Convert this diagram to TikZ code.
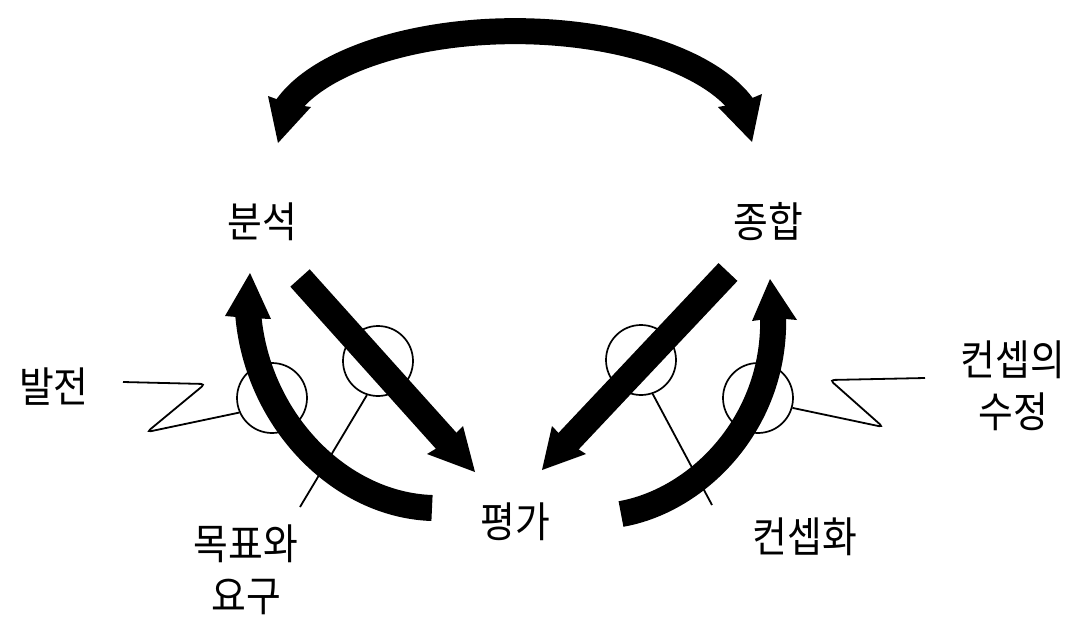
\documentclass[tikz,border=0pt]{standalone}
\usepackage{fontspec}
\newfontfamily\kr[FakeStretch=0.9]{Noto Sans CJK KR}
\usetikzlibrary{calc}
\begin{document}
\begin{tikzpicture}[x=1pt,y=-1pt,
  lbl/.style={font=\kr\fontsize{42}{52}\selectfont, inner sep=0pt, align=center},
  band/.style={line width=26pt, draw=black, line cap=butt},
  head/.style={fill=black},
  ring/.style={circle, draw, line width=1.7pt, minimum size=70pt, inner sep=0pt},
  lead/.style={line width=1.8pt, rounded corners=4pt}]
\useasboundingbox (0,0) rectangle (1072,619);

% labels
\node[lbl] (bunseok) at (262,222) {분석};
\node[lbl] (jonghap) at (768,222) {종합};
\node[lbl] (pyeongga) at (515,522) {평가};
\node[lbl] (baljeon) at (54,387) {발전};
\node[lbl] (sujeong) at (1013,386) {컨셉의\\수정};
\node[lbl] (mokpyo) at (246,570) {목표와\\요구};
\node[lbl] (concept) at (805,537) {컨셉화};

% top arc arrow (both ends)
\coordinate (tLb) at (285.5,109);
\coordinate (tLt) at (278,143);
\coordinate (tRt) at (752,142);
\draw[band] (tLb) arc[start angle=197, end angle=343, x radius=240, y radius=110];
\fill[head] (tLt) -- (268,96) -- (290,104) -- (311,107) -- cycle;
\fill[head] (tRt) -- (762,94) -- (740,103) -- (718,107) -- cycle;

% left straight arrow
\coordinate (lsS) at (300,278);
\coordinate (lsB) at (450,445);
\coordinate (lsT) at (475,472);
\draw[band] (lsS) -- (lsB);
\fill[head] (lsT) -- (427,454) -- (447,442) -- (463,426) -- cycle;

% right straight arrow
\coordinate (rsS) at (728,272);
\coordinate (rsB) at (564,446);
\coordinate (rsT) at (542,470);
\draw[band] (rsS) -- (rsB);
\fill[head] (rsT) -- (552,426) -- (567,442) -- (586,454) -- cycle;

% left curved arrow
\coordinate (lcS) at (432,508);
\coordinate (lcB) at (248,312);
\coordinate (lcT) at (250,273);
\draw[band] (lcS) .. controls (340,505) and (256,420) .. (lcB);
\fill[head] (lcT) -- (225,316) -- (248,318) -- (271,319) -- cycle;

% right curved arrow
\coordinate (rcS) at (621,514);
\coordinate (rcB) at (773,314);
\coordinate (rcT) at (770,279);
\draw[band] (rcS) .. controls (700,500) and (777,420) .. (rcB);
\fill[head] (rcT) -- (752,321) -- (774,318) -- (797,320) -- cycle;

% circles
\node[ring] (cA) at (272,398) {};
\node[ring] (cB) at (378,361) {};
\node[ring] (cC) at (641,360) {};
\node[ring] (cD) at (758,398) {};

% leaders
\coordinate (bjS) at (123,382);
\coordinate (bjK1) at (205,384);
\coordinate (bjK2) at (147,432);
\draw[lead] (bjS) -- (bjK1) -- (bjK2) -- (cA.204);

\coordinate (sjS) at (925,378);
\coordinate (sjK1) at (830,380);
\coordinate (sjK2) at (883,427);
\draw[lead] (sjS) -- (sjK1) -- (sjK2) -- (cD.344);

\coordinate (mpE) at (300,507);
\draw[lead] (cB.252) -- (mpE);

\coordinate (ccE) at (712,505);
\draw[lead] (cC.289) -- (ccE);
\end{tikzpicture}
\end{document}
